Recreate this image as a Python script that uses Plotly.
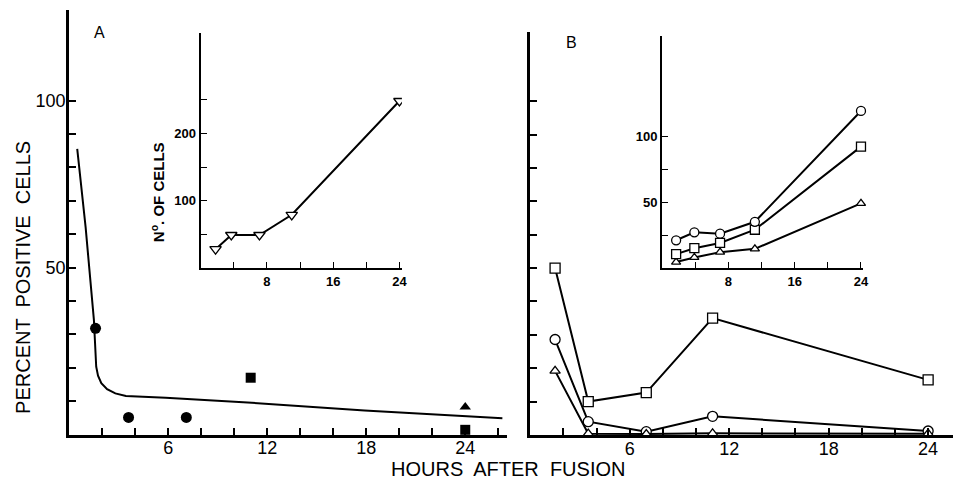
import plotly.graph_objects as go

W, H = 958, 484

# ---------------- data ----------------
# Panel A: fitted curve
curve_hours = [0.49, 1.0, 1.5, 1.64, 1.75, 1.95, 2.3, 2.8, 3.44, 5.85, 11.07, 17.9, 26.25]
curve_pct = [85.5, 62.0, 34.3, 20.3, 17.6, 15.4, 13.6, 12.3, 11.5, 11.0, 9.5, 7.2, 4.9]
# Panel A: filled symbols
circle_hours = [1.6, 3.6, 7.1]
circle_pct = [31.8, 5.1, 5.1]
square_hours = [11.0, 24.0]
square_pct = [17.0, 1.4]
triangle_hours = [24.0]
triangle_pct = [8.2]
# Panel A inset: number of cells
insetA_hours = [1.8, 3.7, 7.1, 11.0, 24.0]
insetA_cells = [28, 49, 49, 79, 248]

# Panel B main
b_hours = [1.5, 3.5, 7.0, 11.0, 24.0]
b_square = [50.0, 10.0, 12.7, 35.0, 16.5]
b_circle = [28.6, 4.0, 1.0, 5.6, 1.2]
b_triangle = [19.2, 0.4, 0.3, 0.5, 0.4]
# Panel B inset
bi_hours = [1.7, 3.9, 7.0, 11.2, 24.0]
bi_circle = [21, 27, 26, 35, 119]
bi_square = [10.5, 15, 19, 29, 92]
bi_triangle = [4.5, 8, 12, 14.5, 49]

# tick definitions
main_xticks = [2, 4, 6, 8, 10, 12, 14, 16, 18, 20, 22, 24, 26]
main_xlabels = ["", "", "6", "", "", "12", "", "", "18", "", "", "24", ""]
main_yticks = [10, 20, 30, 40, 50, 60, 70, 80, 90, 100]
mainA_ylabels = ["", "", "", "", "50", "", "", "", "", "100"]
mainB_ylabels = ["", "", "", "", "", "", "", "", "", ""]
inset_xticks = [4, 8, 12, 16, 20, 24]
inset_xlabels = ["", "8", "", "16", "", "24"]
insetA_yticks = [50, 100, 150, 200, 250]
insetA_ylabels = ["", "100", "", "200", ""]
insetB_yticks = [25, 50, 75, 100]
insetB_ylabels = ["", "50", "", "100"]

FONT = "Liberation Sans, Arial, Helvetica, sans-serif"


def px(x):
    return x / W


def py(y):
    return 1 - y / H


fig = go.Figure()

# ---- Panel A main ----
fig.add_trace(go.Scatter(x=curve_hours, y=curve_pct, mode="lines",
                         line=dict(color="black", width=2), xaxis="x", yaxis="y",
                         showlegend=False, hoverinfo="skip"))
fig.add_trace(go.Scatter(x=circle_hours, y=circle_pct, mode="markers",
                         marker=dict(symbol="circle", size=11, color="black"),
                         xaxis="x", yaxis="y", showlegend=False))
fig.add_trace(go.Scatter(x=square_hours, y=square_pct, mode="markers",
                         marker=dict(symbol="square", size=10, color="black"),
                         xaxis="x", yaxis="y", showlegend=False, cliponaxis=False))
fig.add_trace(go.Scatter(x=triangle_hours, y=triangle_pct, mode="markers",
                         marker=dict(symbol="triangle-up", size=10, color="black"),
                         xaxis="x", yaxis="y", showlegend=False))

# ---- Panel A inset ----
fig.add_trace(go.Scatter(x=insetA_hours, y=insetA_cells, mode="lines+markers",
                         line=dict(color="black", width=2),
                         marker=dict(symbol="triangle-down", size=10, color="white",
                                     line=dict(color="black", width=1.3)),
                         xaxis="x3", yaxis="y3", showlegend=False))

# ---- Panel B main ----
for vals, sym, sz in [(b_square, "square", 10), (b_circle, "circle", 10), (b_triangle, "triangle-up", 9)]:
    fig.add_trace(go.Scatter(x=b_hours, y=vals, mode="lines+markers",
                             line=dict(color="black", width=2),
                             marker=dict(symbol=sym, size=sz, color="white",
                                         line=dict(color="black", width=1.3)),
                             xaxis="x2", yaxis="y2", showlegend=False, cliponaxis=False))

# ---- Panel B inset ----
for vals, sym, sz in [(bi_triangle, "triangle-up", 8), (bi_square, "square", 9), (bi_circle, "circle", 9)]:
    fig.add_trace(go.Scatter(x=bi_hours, y=vals, mode="lines+markers",
                             line=dict(color="black", width=2),
                             marker=dict(symbol=sym, size=sz, color="white",
                                         line=dict(color="black", width=1.3)),
                             xaxis="x4", yaxis="y4", showlegend=False, cliponaxis=False))

common = dict(showgrid=False, zeroline=False, showline=True, linecolor="black",
              ticks="inside", tickcolor="black", tickmode="array", fixedrange=True)
main_tickfont = dict(family=FONT, size=18, color="black")
inset_tickfont = dict(family=FONT, size=13, color="black", weight="bold")

fig.update_layout(
    width=W, height=H, margin=dict(l=0, r=0, t=0, b=0),
    paper_bgcolor="white", plot_bgcolor="rgba(0,0,0,0)",
    xaxis=dict(domain=[px(69.5), px(510)], range=[0, 26.55], anchor="y",
               tickvals=main_xticks, ticktext=main_xlabels, ticklen=7, tickwidth=1.5,
               linewidth=3, tickfont=main_tickfont, ticklabelstandoff=-5, **common),
    yaxis=dict(domain=[py(434.5), py(10)], range=[0, 127.1], anchor="x",
               tickvals=main_yticks, ticktext=mainA_ylabels, ticklen=7, tickwidth=1.5,
               linewidth=3, tickfont=main_tickfont, ticklabelstandoff=-3, **common),
    xaxis2=dict(domain=[px(533), px(958)], range=[0, 25.5], anchor="y2",
                tickvals=main_xticks, ticktext=main_xlabels, ticklen=7, tickwidth=1.5,
                linewidth=3, tickfont=main_tickfont, ticklabelstandoff=-5, **common),
    yaxis2=dict(domain=[py(435), py(32)], range=[0, 120.7], anchor="x2",
                tickvals=main_yticks, ticktext=mainB_ylabels, ticklen=7, tickwidth=1.5,
                linewidth=3, tickfont=main_tickfont, **common),
    xaxis3=dict(domain=[px(201.7), px(404)], range=[0, 24.3], anchor="y3",
                tickvals=inset_xticks, ticktext=inset_xlabels, ticklen=6, tickwidth=1.3,
                linewidth=2, tickfont=inset_tickfont, **common),
    yaxis3=dict(domain=[py(268), py(33)], range=[0, 349], anchor="x3",
                tickvals=insetA_yticks, ticktext=insetA_ylabels, ticklen=6, tickwidth=1.3,
                linewidth=2, tickfont=inset_tickfont, **common),
    xaxis4=dict(domain=[px(665.5), px(868)], range=[0, 24.3], anchor="y4",
                tickvals=inset_xticks, ticktext=inset_xlabels, ticklen=6, tickwidth=1.3,
                linewidth=2, tickfont=inset_tickfont, **common),
    yaxis4=dict(domain=[py(268), py(36)], range=[0, 175.8], anchor="x4",
                tickvals=insetB_yticks, ticktext=insetB_ylabels, ticklen=6, tickwidth=1.3,
                linewidth=2, tickfont=inset_tickfont, **common),
    annotations=[
        dict(text="A", x=px(100), y=py(33), xref="paper", yref="paper", showarrow=False,
             xanchor="center", yanchor="middle",
             font=dict(family=FONT, size=16, color="black")),
        dict(text="B", x=px(575), y=py(42), xref="paper", yref="paper", showarrow=False,
             xanchor="center", yanchor="middle",
             font=dict(family=FONT, size=16, color="black")),
        dict(text="HOURS  AFTER  FUSION", x=px(511), y=py(469), xref="paper", yref="paper",
             showarrow=False, xanchor="center", yanchor="middle",
             font=dict(family=FONT, size=20, color="black")),
        dict(text="PERCENT  POSITIVE  CELLS", x=px(23), y=py(277), xref="paper", yref="paper",
             showarrow=False, textangle=-90, xanchor="center", yanchor="middle",
             font=dict(family=FONT, size=20, color="black")),
        dict(text="N<sup>o</sup>. OF CELLS", x=px(158), y=py(192), xref="paper", yref="paper",
             showarrow=False, textangle=-90, xanchor="center", yanchor="middle",
             font=dict(family=FONT, size=15, color="black", weight="bold")),
    ],
)

fig.write_html("out.html")
